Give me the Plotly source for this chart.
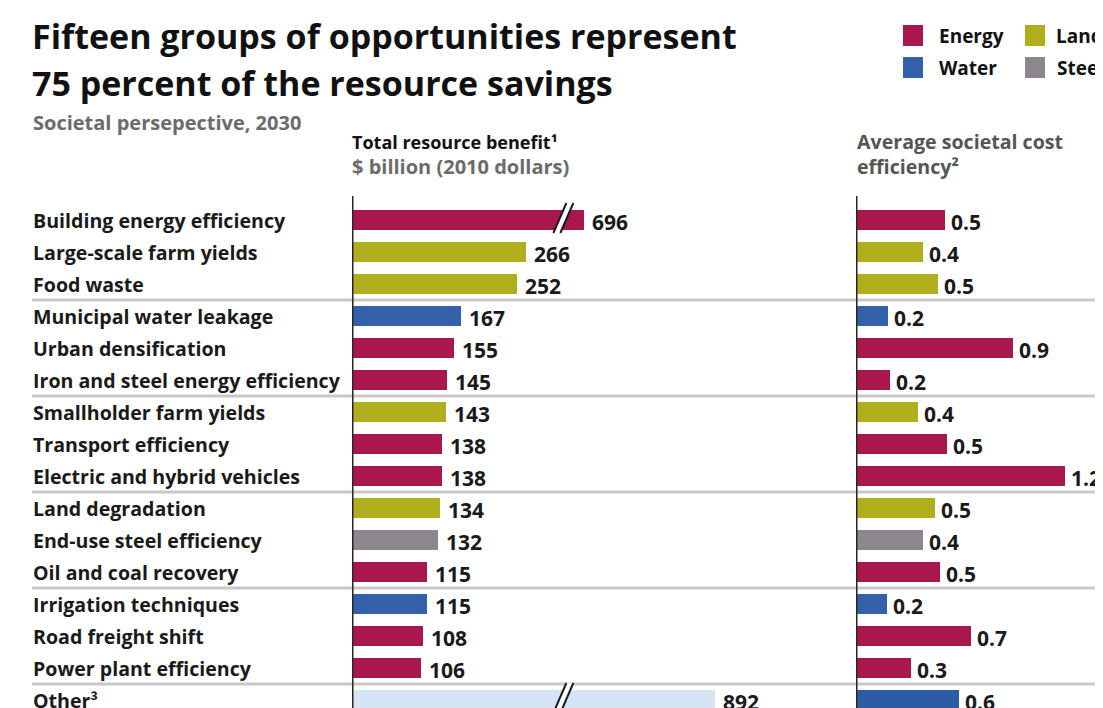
import plotly.graph_objects as go

# ---------------- data ----------------
categories = [
    "Building energy efficiency", "Large-scale farm yields", "Food waste",
    "Municipal water leakage", "Urban densification", "Iron and steel energy efficiency",
    "Smallholder farm yields", "Transport efficiency", "Electric and hybrid vehicles",
    "Land degradation", "End-use steel efficiency", "Oil and coal recovery",
    "Irrigation techniques", "Road freight shift", "Power plant efficiency", "Other³",
]
resource_type = [
    "Energy", "Land", "Land",
    "Water", "Energy", "Energy",
    "Land", "Energy", "Energy",
    "Land", "Steel", "Energy",
    "Water", "Energy", "Energy", "Other",
]
total_benefit = [696, 266, 252, 167, 155, 145, 143, 138, 138, 134, 132, 115, 115, 108, 106, 892]
cost_efficiency = [0.52, 0.39, 0.48, 0.19, 0.92, 0.20, 0.36, 0.53, 1.22, 0.46, 0.39, 0.49, 0.18, 0.67, 0.32, 0.60]
legend_items = ["Energy", "Land", "Water", "Steel"]

# ---------------- styles ----------------
W, H = 1103, 708          # target picture size
OFF = 8                   # page body margin of the html page
FW, FH = W - OFF, H - OFF  # figure size actually drawn
FONT = "Open Sans"
colors = {"Energy": "#A8174D", "Land": "#B0AE1C", "Water": "#3461AA",
          "Steel": "#8C878C", "Other": "#D5E5F5"}
right_colors = dict(colors, Other="#2C5CA6")
# broken bars are drawn with a truncated length (axis break)
broken_display = {"Building energy efficiency": 354, "Other³": 554}
BREAK_AT = 312

L_PX0, L_SCALE = 352, 0.655      # left panel origin (px) and px per $bn
R_PX0, R_SCALE = 856, 171        # right panel origin (px) and px per unit
ROW0, ROW_H = 220, 32            # first row centre (px) and row pitch

n = len(categories)
rows = list(range(n))
left_len = [broken_display.get(c, v) for c, v in zip(categories, total_benefit)]


def px(x):
    return (x - OFF) / FW


def py(y):
    return 1 - (y - OFF) / FH


fig = go.Figure()
fig.add_trace(go.Bar(
    x=left_len, y=rows, orientation="h", width=0.62,
    marker=dict(color=[colors[t] for t in resource_type], line=dict(width=0)),
    xaxis="x", yaxis="y", hoverinfo="skip", showlegend=False,
))
fig.add_trace(go.Bar(
    x=cost_efficiency, y=rows, orientation="h", width=0.62,
    marker=dict(color=[right_colors[t] for t in resource_type], line=dict(width=0)),
    xaxis="x2", yaxis="y", hoverinfo="skip", showlegend=False,
))

shapes = []
annotations = []

# separators between groups
for sep in [2.5, 5.5, 8.5, 11.5, 14.5]:
    shapes.append(dict(type="line", xref="paper", yref="y", x0=px(32), x1=1.0,
                       y0=sep, y1=sep, line=dict(color="#C8C8C8", width=3), layer="below"))

# axis lines
y_top = (196 - ROW0) / ROW_H
y_bot = (H - ROW0) / ROW_H + 0.2
shapes.append(dict(type="line", xref="x", yref="y", x0=0, x1=0, y0=y_top, y1=y_bot,
                   line=dict(color="#2B2522", width=3)))
shapes.append(dict(type="line", xref="x2", yref="y", x0=0, x1=0, y0=y_top, y1=y_bot,
                   line=dict(color="#2B2522", width=3)))

# break marks on truncated bars
for c in broken_display:
    r = categories.index(c)
    dx_top = 13 / L_SCALE
    gap = 7 / L_SCALE
    yb, yt = r + 13 / ROW_H, r - 17 / ROW_H
    x0 = BREAK_AT - 3 / L_SCALE
    shapes.append(dict(type="path", xref="x", yref="y",
                       path=f"M {x0},{yb} L {x0 + dx_top},{yt} L {x0 + dx_top + gap},{yt} L {x0 + gap},{yb} Z",
                       fillcolor="white", line=dict(width=0)))
    for off in (0, gap):
        shapes.append(dict(type="line", xref="x", yref="y",
                           x0=x0 + off, y0=yb, x1=x0 + dx_top + off, y1=yt,
                           line=dict(color="#1A1A1A", width=2)))

# row labels
for r, c in enumerate(categories):
    annotations.append(dict(text=f"<b>{c}</b>", xref="paper", yref="y", x=px(31), y=r,
                            xanchor="left", yanchor="middle", showarrow=False,
                            font=dict(family=FONT, size=19.6, color="#1A1A1A")))

# value labels
for r, (v, l) in enumerate(zip(total_benefit, left_len)):
    annotations.append(dict(text=f"<b>{v}</b>", xref="x", yref="y", x=l, y=r + 0.06,
                            xanchor="left", yanchor="middle", xshift=6, showarrow=False,
                            font=dict(family=FONT, size=21, color="#1A1A1A")))
for r, v in enumerate(cost_efficiency):
    annotations.append(dict(text=f"<b>{v:.1f}</b>", xref="x2", yref="y", x=v, y=r + 0.06,
                            xanchor="left", yanchor="middle", xshift=4, showarrow=False,
                            font=dict(family=FONT, size=21, color="#1A1A1A")))

# titles
for txt, yc in [("Fifteen groups of opportunities represent", 36),
                ("75 percent of the resource savings", 83)]:
    annotations.append(dict(text=f"<b>{txt}</b>", xref="paper", yref="paper",
                            x=px(30), y=py(yc), xanchor="left", yanchor="middle",
                            showarrow=False, font=dict(family=FONT, size=34, color="#111111")))
annotations.append(dict(text="<b>Societal persepective, 2030</b>", xref="paper", yref="paper",
                        x=px(31), y=py(123), xanchor="left", yanchor="middle", showarrow=False,
                        font=dict(family=FONT, size=20, color="#6B6B6B")))
annotations.append(dict(text="<b>Total resource benefit¹</b>", xref="paper", yref="paper",
                        x=px(350), y=py(142), xanchor="left", yanchor="middle", showarrow=False,
                        font=dict(family=FONT, size=18, color="#111111")))
annotations.append(dict(text="<b>$ billion (2010 dollars)</b>", xref="paper", yref="paper",
                        x=px(350), y=py(166), xanchor="left", yanchor="middle", showarrow=False,
                        font=dict(family=FONT, size=20, color="#6B6B6B")))
annotations.append(dict(text="<b>Average societal cost</b>", xref="paper", yref="paper",
                        x=px(855), y=py(142), xanchor="left", yanchor="middle", showarrow=False,
                        font=dict(family=FONT, size=19.6, color="#555555")))
annotations.append(dict(text="<b>efficiency²</b>", xref="paper", yref="paper",
                        x=px(855), y=py(167), xanchor="left", yanchor="middle", showarrow=False,
                        font=dict(family=FONT, size=19.6, color="#555555")))

# legend
leg_pos = {"Energy": (903, 25, 34), "Land": (1025, 25, 29),
           "Water": (903, 57, 34), "Steel": (1025, 57, 30)}
for name in legend_items:
    x0, y0, tx = leg_pos[name]
    shapes.append(dict(type="rect", xref="paper", yref="paper", x0=px(x0), x1=px(x0 + 20),
                       y0=py(y0), y1=py(y0 + 21), fillcolor=colors[name], line=dict(width=0)))
    annotations.append(dict(text=f"<b>{name}</b>", xref="paper", yref="paper", x=px(x0 + tx),
                            y=py(y0 + 11), xanchor="left", yanchor="middle", showarrow=False,
                            font=dict(family=FONT, size=19, color="#111111")))

fig.update_layout(
    width=FW, height=FH, margin=dict(l=0, r=0, t=0, b=0),
    paper_bgcolor="white", plot_bgcolor="rgba(0,0,0,0)",
    bargap=0, barmode="overlay",
    xaxis=dict(domain=[px(L_PX0), px(840)], range=[0, (840 - L_PX0) / L_SCALE],
               visible=False, fixedrange=True, anchor="y"),
    xaxis2=dict(domain=[px(R_PX0), 1.0], range=[0, (W - R_PX0) / R_SCALE],
                visible=False, fixedrange=True, anchor="y"),
    yaxis=dict(domain=[0, 1], range=[(H - ROW0) / ROW_H, (OFF - ROW0) / ROW_H],
               visible=False, fixedrange=True),
    shapes=shapes, annotations=annotations,
)

fig.write_html("out.html")
